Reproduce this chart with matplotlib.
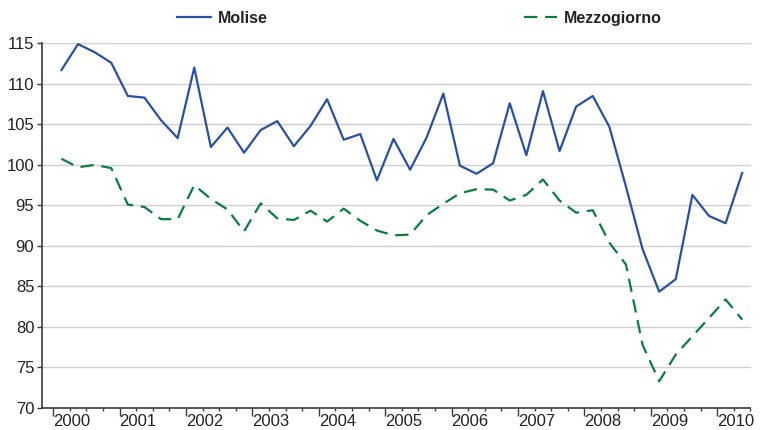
import numpy as np
import matplotlib
matplotlib.use('Agg')
import matplotlib.pyplot as plt

plt.rcParams['font.family'] = ['Liberation Sans', 'DejaVu Sans']

# quarterly index, 2000 Q1 .. 2010 Q2
years = ['2000', '2001', '2002', '2003', '2004', '2005', '2006', '2007', '2008', '2009', '2010']

molise = [111.7, 114.9, 113.9, 112.6, 108.5, 108.3, 105.5, 103.3,
          112.0, 102.2, 104.6, 101.5, 104.3, 105.4, 102.3, 104.8,
          108.1, 103.1, 103.8, 98.1, 103.2, 99.4, 103.4, 108.8,
          99.9, 98.9, 100.2, 107.6, 101.2, 109.1, 101.7, 107.2,
          108.5, 104.7, 97.3, 89.6, 84.35, 85.9, 96.3, 93.7,
          92.8, 99.0]

mezzogiorno = [100.75, 99.7, 100.0, 99.6, 95.1, 94.8, 93.3, 93.3,
               97.5, 95.8, 94.5, 91.8, 95.25, 93.4, 93.2, 94.35,
               93.0, 94.6, 93.1, 91.9, 91.3, 91.4, 93.8, 95.2,
               96.5, 97.0, 96.95, 95.6, 96.3, 98.2, 95.6, 94.1,
               94.4, 90.4, 87.7, 77.8, 73.3, 76.6, 78.85, 81.1,
               83.4, 80.9]

x = np.arange(len(molise))

fig = plt.figure(figsize=(7.62, 4.30), dpi=100)
ax = fig.add_axes([42 / 762, 1 - 408 / 430, (750.5 - 42) / 762, (408 - 43.3) / 430])

ax.plot(x, molise, color='#2b4fa2', lw=1.6, label='Molise')
ax.plot(x, mezzogiorno, color='#0b7d3e', lw=1.6, dashes=(6, 3.5), label='Mezzogiorno')

ax.set_ylim(70, 115)
ax.set_xlim(-1.17, 41.5)

ax.set_yticks(np.arange(70, 116, 5))
ax.yaxis.grid(True, color='#cfcfcf', lw=1.0)
ax.set_axisbelow(True)

ax.set_xticks(np.arange(len(years)) * 4 - 0.5)
ax.set_xticklabels(years, ha='left')
ax.set_xticks(np.arange(-0.5, 41.6, 1), minor=True)

for s in ['top', 'right']:
    ax.spines[s].set_visible(False)
for s in ['left', 'bottom']:
    ax.spines[s].set_color('#3a3a3a')
    ax.spines[s].set_linewidth(1.2)

ax.tick_params(axis='y', length=3.5, width=1, color='#3a3a3a', pad=2,
               labelsize=12, labelcolor='#222222')
ax.tick_params(axis='x', which='major', length=6, width=1, color='#3a3a3a', pad=-1.5,
               labelsize=12, labelcolor='#222222')
ax.tick_params(axis='x', which='minor', length=2.5, width=1, color='#3a3a3a')

leg = fig.legend(loc='center', bbox_to_anchor=(0.551, 0.958), ncol=2, frameon=False,
                 handlelength=2.1, handletextpad=0.45, columnspacing=16.0,
                 prop={'weight': 'bold', 'size': 11.5})
for t in leg.get_texts():
    t.set_color('#222222')

fig.savefig('out.png', dpi=100)
